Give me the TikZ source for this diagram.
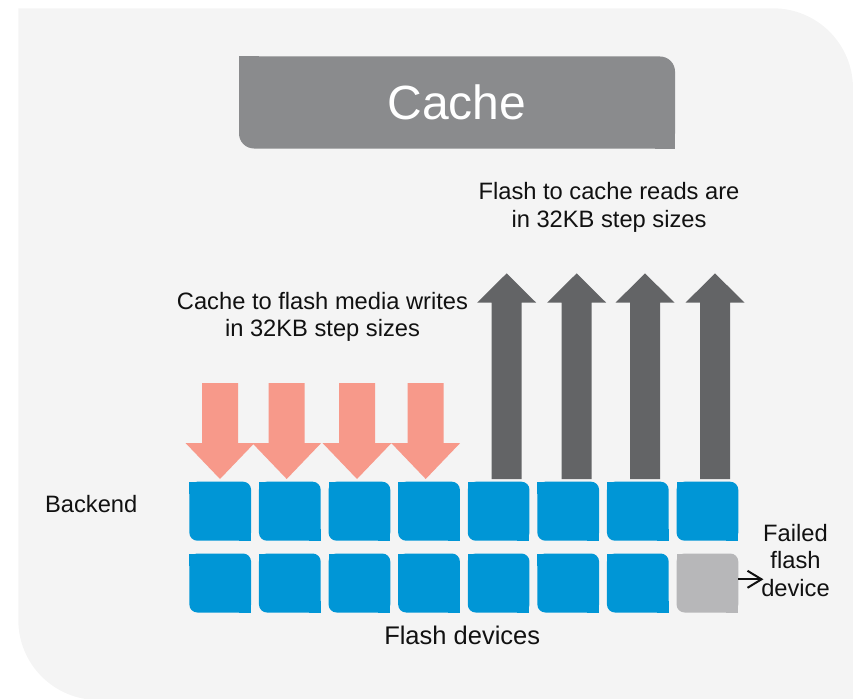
\documentclass[tikz,border=0pt]{standalone}
\usepackage{fontspec}
\setmainfont{Liberation Sans}
\usetikzlibrary{calc}

\definecolor{panelbg}{HTML}{F4F4F4}
\definecolor{cachegray}{HTML}{8A8B8D}
\definecolor{devblue}{HTML}{0096D6}
\definecolor{failgray}{HTML}{B7B7B9}
\definecolor{writesalmon}{HTML}{F7998A}
\definecolor{readgray}{HTML}{636466}
\definecolor{inktext}{HTML}{111111}

\begin{document}
\begin{tikzpicture}[x=1pt,y=-1pt,
  dev/.style={rectangle, inner sep=0pt, outer sep=0pt,
    minimum width=61.7pt, minimum height=59pt, rounded corners=8pt},
  lbl/.style={font=\fontsize{23.7}{28}\selectfont, inner sep=0pt,
    anchor=base, text=inktext},
  writearrow/.style={fill=writesalmon},
  readarrow/.style={fill=readgray},
  pointer/.style={line width=2pt, draw=inktext, line cap=butt, line join=miter}]

\useasboundingbox (0,0) rectangle (853,698);

% background panel: square top-left / bottom-right, round top-right / bottom-left
\fill[panelbg] (18.3,8.3) -- (773,8.3)
  .. controls (817.2,8.3) and (853,44.1) .. (853,88.3)
  -- (853,700) -- (98.3,700)
  .. controls (54.1,700) and (18.3,664.2) .. (18.3,620) -- cycle;

% cache block
\node[fill=cachegray, rounded corners=15pt, inner sep=0pt,
      minimum width=436pt, minimum height=92pt,
      text=white, font=\fontsize{48}{58}\selectfont] (cache) at (457,102.5) {Cache};
\fill[cachegray] (cache.north west) rectangle +(20,20);
\fill[cachegray] (cache.south east) rectangle +(-20,-20);

% write arrows (cache to flash)
\foreach \cx in {220,286.7,357,425.7} {
  \fill[writearrow] (\cx-18,383) -- (\cx+18,383) -- (\cx+18,443)
    -- (\cx+34.5,443) -- (\cx,479) -- (\cx-34.5,443) -- (\cx-18,443) -- cycle;
}

% read arrows (flash to cache)
\foreach \cx in {506.7,576.7,645,715} {
  \fill[readarrow] (\cx-15,479) -- (\cx-15,302.7) -- (\cx-29.5,302.7)
    -- (\cx,273.3) -- (\cx+29.5,302.7) -- (\cx+15,302.7) -- (\cx+15,479) -- cycle;
}

% backend row of flash devices
\foreach \c in {1,...,8} {
  \node[dev, fill=devblue] (d1\c) at ({220.2+69.6*(\c-1)},511.2) {};
  \fill[devblue] (d1\c.north west) rectangle +(12,12);
  \fill[devblue] (d1\c.south east) rectangle +(-12,-12);
}

% second row, last device failed
\foreach \c/\col in {1/devblue,2/devblue,3/devblue,4/devblue,5/devblue,6/devblue,7/devblue,8/failgray} {
  \node[dev, fill=\col] (d2\c) at ({220.2+69.6*(\c-1)},583) {};
  \fill[\col] (d2\c.north west) rectangle +(12,12);
  \fill[\col] (d2\c.south east) rectangle +(-12,-12);
}

% labels
\node[lbl] (backend) at (91.2,512) {Backend};
\node[lbl] (wr1) at (322.5,309.3) {Cache to flash media writes};
\node[lbl] (wr2) at (322.5,336.5) {in 32KB step sizes};
\node[lbl] (rd1) at (609,199.3) {Flash to cache reads are};
\node[lbl] (rd2) at (609,227.3) {in 32KB step sizes};
\node[lbl] (fail1) at (795.5,541) {Failed};
\node[lbl] (fail2) at (795.5,568.5) {flash};
\node[lbl] (fail3) at (795.5,596) {device};
\node[lbl, font=\fontsize{25.5}{30}\selectfont] (flashdevs) at (462.2,644.3) {Flash devices};

% pointer from the failed device to its label, with an open chevron head
\coordinate (failtip) at (761.5,579.3);
\draw[pointer] (d28.east |- failtip) -- (failtip);
\draw[pointer] ($(failtip)+(-14,-8.5)$) -- (failtip) -- ($(failtip)+(-14,8.5)$);

\end{tikzpicture}
\end{document}
